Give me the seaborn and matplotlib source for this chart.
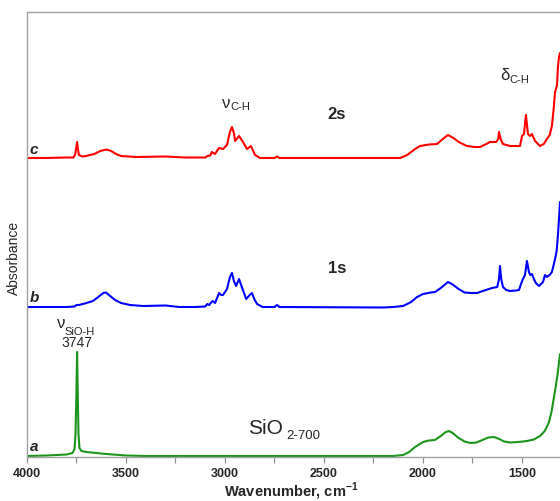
import numpy as np
import pandas as pd
import matplotlib
matplotlib.use("Agg")
import matplotlib.pyplot as plt
from matplotlib.ticker import MultipleLocator
import seaborn as sns

# spectre a : SiO2-700
wn_a = [4000, 3900, 3800, 3770, 3760, 3755, 3750, 3747, 3744, 3740, 3735, 3725,
        3700, 3650, 3600, 3500, 3400, 3000, 2500, 2150, 2100, 2070, 2040, 2000,
        1970, 1940, 1910, 1885, 1869, 1850, 1820, 1790, 1760, 1730, 1700, 1670,
        1641, 1615, 1590, 1560, 1520, 1475, 1440, 1409, 1385, 1365, 1350, 1340,
        1330, 1320, 1308]
abs_a = [0.01, 0.015, 0.025, 0.04, 0.08, 0.23, 0.68, 1.05, 0.68, 0.23, 0.09, 0.06,
         0.05, 0.04, 0.03, 0.015, 0.01, 0.01, 0.01, 0.01, 0.02, 0.05, 0.10, 0.15,
         0.165, 0.17, 0.21, 0.25, 0.26, 0.24, 0.19, 0.155, 0.14, 0.145, 0.17, 0.195,
         0.20, 0.18, 0.155, 0.145, 0.15, 0.16, 0.175, 0.21, 0.26, 0.34, 0.46, 0.58,
         0.70, 0.83, 1.03]

# spectre b : 1s
wn_b = [4000, 3900, 3800, 3760, 3750, 3737, 3700, 3667, 3640, 3615, 3601, 3580,
        3555, 3525, 3480, 3414, 3300, 3232, 3150, 3100, 3089, 3080, 3063, 3050,
        3030, 3020, 3010, 2990, 2975, 2965, 2955, 2944, 2929, 2915, 2893, 2875,
        2864, 2850, 2838, 2810, 2750, 2737, 2725, 2200, 2150, 2100, 2060, 2030,
        2000, 1960, 1939, 1910, 1874, 1850, 1820, 1790, 1760, 1727, 1690, 1651,
        1625, 1616, 1611, 1605, 1596, 1580, 1561, 1530, 1515, 1505, 1495, 1485,
        1475, 1465, 1458, 1450, 1440, 1430, 1414, 1394, 1384, 1375, 1369, 1360,
        1349, 1340, 1333, 1325, 1318, 1313, 1308]
abs_b = [1.50, 1.50, 1.50, 1.505, 1.52, 1.52, 1.54, 1.56, 1.60, 1.64, 1.645, 1.61,
         1.57, 1.54, 1.52, 1.51, 1.515, 1.50, 1.50, 1.505, 1.53, 1.52, 1.56, 1.54,
         1.64, 1.62, 1.62, 1.68, 1.80, 1.84, 1.76, 1.71, 1.78, 1.70, 1.58, 1.62,
         1.64, 1.57, 1.53, 1.50, 1.50, 1.52, 1.50, 1.495, 1.50, 1.51, 1.55, 1.60,
         1.63, 1.645, 1.65, 1.69, 1.75, 1.725, 1.68, 1.645, 1.64, 1.64, 1.665, 1.69,
         1.70, 1.78, 1.91, 1.78, 1.70, 1.67, 1.66, 1.665, 1.67, 1.73, 1.78, 1.82,
         1.96, 1.85, 1.82, 1.83, 1.78, 1.74, 1.71, 1.75, 1.82, 1.80, 1.81, 1.82,
         1.85, 1.92, 1.98, 2.06, 2.23, 2.38, 2.55]

# spectre c : 2s
wn_c = [4000, 3900, 3800, 3765, 3756, 3750, 3747, 3744, 3738, 3720, 3702, 3660,
        3630, 3600, 3575, 3550, 3525, 3450, 3300, 3200, 3100, 3089, 3075, 3066,
        3051, 3030, 3010, 2990, 2975, 2965, 2955, 2949, 2929, 2909, 2889, 2869,
        2848, 2823, 2750, 2737, 2725, 2200, 2116, 2080, 2040, 2015, 1970, 1929,
        1900, 1874, 1850, 1815, 1778, 1740, 1712, 1680, 1662, 1630, 1620, 1616,
        1608, 1596, 1561, 1510, 1500, 1490, 1480, 1470, 1460, 1450, 1434, 1409,
        1390, 1374, 1360, 1349, 1340, 1333, 1323, 1318, 1313, 1308]
abs_c = [2.99, 2.99, 2.995, 2.995, 3.03, 3.11, 3.15, 3.10, 3.02, 3.005, 3.01, 3.03,
         3.06, 3.075, 3.06, 3.03, 3.01, 3.00, 3.005, 2.995, 2.995, 3.01, 3.015, 3.05,
         3.03, 3.09, 3.08, 3.12, 3.25, 3.30, 3.24, 3.16, 3.21, 3.15, 3.08, 3.11,
         3.02, 2.99, 2.99, 3.005, 2.99, 2.99, 2.99, 3.02, 3.08, 3.11, 3.125, 3.13,
         3.18, 3.22, 3.195, 3.145, 3.11, 3.10, 3.10, 3.13, 3.15, 3.15, 3.18, 3.25,
         3.18, 3.13, 3.11, 3.11, 3.21, 3.23, 3.42, 3.23, 3.21, 3.23, 3.16, 3.11,
         3.13, 3.18, 3.22, 3.31, 3.48, 3.65, 3.72, 3.91, 4.0, 4.04]

xticks = [4000, 3500, 3000, 2500, 2000, 1500]

sns.set_style("white")
plt.rcParams['font.family'] = ['Liberation Sans', 'DejaVu Sans']
plt.rcParams['mathtext.fontset'] = 'custom'
plt.rcParams['mathtext.rm'] = 'Liberation Sans'
plt.rcParams['mathtext.bf'] = 'Liberation Sans:bold'

fig = plt.figure(figsize=(5.6, 5.02), dpi=100)
ax = fig.add_axes([27 / 560, 44 / 502, 533 / 560, 445 / 502])

df = pd.concat([
    pd.DataFrame({'wn': wn_a, 'A': abs_a, 'ech': 'a'}),
    pd.DataFrame({'wn': wn_b, 'A': abs_b, 'ech': 'b'}),
    pd.DataFrame({'wn': wn_c, 'A': abs_c, 'ech': 'c'}),
])
couleurs = {'a': '#1c951c', 'b': '#0000ff', 'c': '#ff0000'}
sns.lineplot(data=df, x='wn', y='A', hue='ech', palette=couleurs, sort=False,
             estimator=None, linewidth=1.5, legend=False, ax=ax)

ax.set_xlim(4000, 1308)
ax.set_ylim(0, 4.45)
ax.set_xticks(xticks)
ax.xaxis.set_minor_locator(MultipleLocator(250))
ax.set_xticklabels([str(t) for t in xticks], fontweight='bold', fontsize=9)
ax.set_yticks([])
ax.tick_params(axis='x', which='both', direction='out', length=4, width=0.9,
               color='#909090', bottom=True, pad=3)
for s in ['left', 'top', 'bottom']:
    ax.spines[s].set_color('#a0a0a0')
    ax.spines[s].set_linewidth(1.0)
ax.spines['right'].set_visible(False)

ax.set_xlabel(r'Wavenumber, cm$^{\mathbf{-1}}$', fontsize=10.5, fontweight='bold')
ax.xaxis.set_label_coords(0.495, -0.052)
ax.set_ylabel('Absorbance', fontsize=10)
ax.yaxis.set_label_coords(-0.012, 0.45)

# lettres des spectres
for lettre, yv in [('a', 0.11), ('b', 1.60), ('c', 3.08)]:
    ax.text(3985, yv, lettre, fontsize=11, fontweight='bold', fontstyle='italic',
            ha='left', va='center')

# annotations
ax.text(3848, 1.34, 'ν', fontsize=12, ha='left', va='center')
ax.text(3812, 1.26, 'SiO-H', fontsize=8, ha='left', va='center')
ax.text(3747, 1.15, '3747', fontsize=10, ha='center', va='center')
ax.text(3015, 3.54, 'ν', fontsize=12, ha='left', va='center')
ax.text(2973, 3.505, 'C-H', fontsize=8, ha='left', va='center')
ax.text(1611, 3.83, 'δ', fontsize=12, ha='left', va='center')
ax.text(1565, 3.78, 'C-H', fontsize=8, ha='left', va='center')
ax.text(2434, 3.435, '2s', fontsize=12, fontweight='bold', ha='center', va='center')
ax.text(2434, 1.895, '1s', fontsize=12, fontweight='bold', ha='center', va='center')
ax.text(2884, 0.29, 'SiO', fontsize=15, ha='left', va='center')
ax.text(2690, 0.22, '2-700', fontsize=9.5, ha='left', va='center')

fig.savefig('out.png', dpi=100)
